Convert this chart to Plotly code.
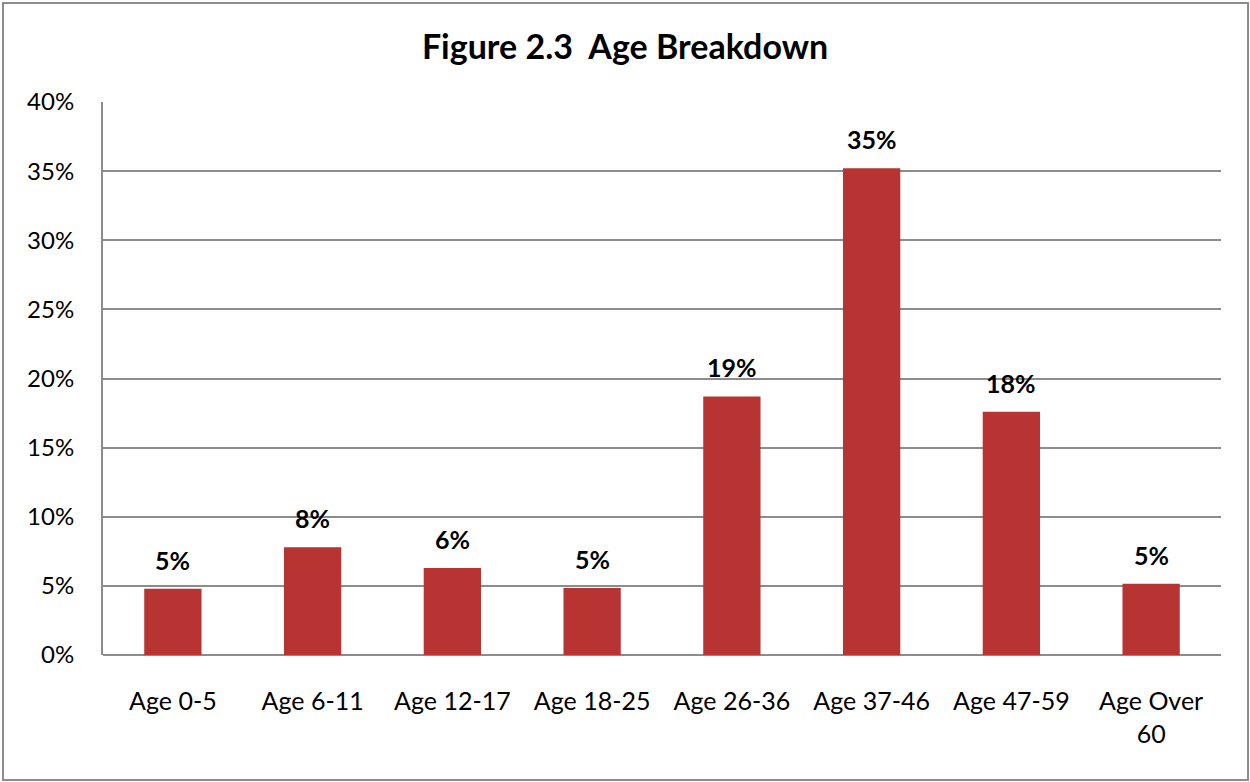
import plotly.graph_objects as go

categories = ["Age 0-5", "Age 6-11", "Age 12-17", "Age 18-25", "Age 26-36",
              "Age 37-46", "Age 47-59", "Age Over<br>60"]
values = [4.8, 7.8, 6.3, 4.85, 18.7, 35.2, 17.6, 5.15]
labels = ["5%", "8%", "6%", "5%", "19%", "35%", "18%", "5%"]
y_ticks = [0, 5, 10, 15, 20, 25, 30, 35, 40]
y_tick_text = [f"{t}%" for t in y_ticks]

W, H = 1250, 782
ml, mr, mt, mb = 103, 29, 102, 127
pw, ph = W - ml - mr, H - mt - mb

FONT = "Lato, Open Sans, sans-serif"

fig = go.Figure()
fig.add_trace(go.Bar(
    x=categories, y=values,
    marker=dict(color="#B83432", line=dict(width=0)),
    hoverinfo="skip",
))

for c, v, t in zip(categories, values, labels):
    fig.add_annotation(x=c, y=v, text=f"<b>{t}</b>", showarrow=False,
                       yanchor="bottom", yshift=12,
                       font=dict(family=FONT, size=25, color="#000000"))

# outer border of the chart
fig.add_shape(type="rect", xref="paper", yref="paper",
              x0=(3 - ml) / pw, x1=(W - 2 - ml) / pw,
              y0=-(mb - 2) / ph, y1=1 + (mt - 3) / ph,
              line=dict(color="#8c8c8c", width=2), fillcolor="rgba(0,0,0,0)")

fig.update_layout(
    width=W, height=H,
    margin=dict(l=ml, r=mr, t=mt, b=mb),
    paper_bgcolor="white", plot_bgcolor="white",
    bargap=0.59,
    showlegend=False,
    title=dict(text="<b>Figure 2.3  Age Breakdown</b>", x=0.5, xref="container",
               xanchor="center",
               y=1 - 47 / H, yanchor="middle",
               font=dict(family=FONT, size=34, color="#000000")),
    font=dict(family=FONT, size=25, color="#000000"),
)
fig.update_xaxes(showgrid=False, showline=False, ticks="outside", ticklen=24,
                 tickcolor="rgba(0,0,0,0)", tickfont=dict(size=25))
fig.update_yaxes(range=[0, 40], tickvals=y_ticks, ticktext=y_tick_text,
                 showgrid=True, gridcolor="#8c8c8c", gridwidth=1.5,
                 showline=True, linecolor="#8c8c8c", linewidth=2,
                 ticks="outside", ticklen=22, tickcolor="rgba(0,0,0,0)",
                 zeroline=True, zerolinecolor="#8c8c8c", zerolinewidth=2,
                 tickfont=dict(size=24))

fig.write_html("out.html", config={"displayModeBar": False},
               post_script="document.body.style.margin='0';")
